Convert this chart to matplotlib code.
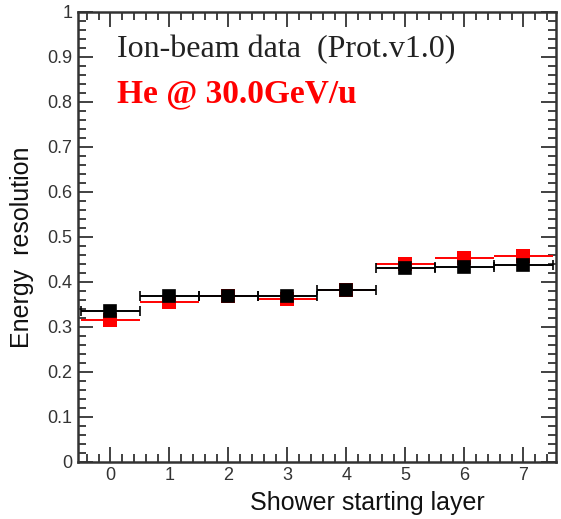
import numpy as np
import matplotlib
matplotlib.use('Agg')
from matplotlib import pyplot as plt
from matplotlib.ticker import MultipleLocator, FuncFormatter

# shower starting layer, energy resolution for two samples
layers = [0, 1, 2, 3, 4, 5, 6, 7]
res_black = [0.336, 0.369, 0.369, 0.369, 0.382, 0.430, 0.433, 0.437]
res_red = [0.315, 0.356, 0.369, 0.361, 0.382, 0.440, 0.453, 0.457]
bin_half = [0.5] * 8

fig = plt.figure(figsize=(5.61, 5.19), dpi=100)
ax = fig.add_axes([0.139, 0.110, 0.852, 0.867])

# red drawn first, black on top hides red where the two agree
ax.errorbar(layers, res_red, xerr=bin_half, fmt='s', color='#ff0000',
            ms=9.5, mew=0, elinewidth=1.4, capsize=0, zorder=2)
ax.errorbar(layers, res_black, xerr=bin_half, fmt='s', color='black',
            ms=9.0, mew=1.2, elinewidth=1.4, capsize=3.5, capthick=1.4,
            zorder=3)

ax.set_xlim(-0.55, 7.55)
ax.set_ylim(0, 1)
ax.xaxis.set_major_locator(MultipleLocator(1))
ax.xaxis.set_minor_locator(MultipleLocator(0.2))
ax.yaxis.set_major_locator(MultipleLocator(0.1))
ax.yaxis.set_minor_locator(MultipleLocator(0.02))
ax.yaxis.set_major_formatter(FuncFormatter(lambda v, p: '%g' % round(v, 2)))

ax.tick_params(which='both', direction='in', top=True, right=True, width=1.3,
               labelsize=13, colors='#333333', labelcolor='#333333')
ax.tick_params(which='major', length=11, pad=4)
ax.tick_params(which='minor', length=6)
for lab in ax.get_xticklabels() + ax.get_yticklabels():
    lab.set_family('Liberation Sans')
for s in ax.spines.values():
    s.set_linewidth(1.8)
    s.set_color('#333333')

ax.set_ylabel('Energy  resolution', fontsize=18, family='Liberation Sans',
              color='#111111', va='center')
ax.yaxis.set_label_coords(-0.117, 0.477)
ax.set_xlabel('Shower starting layer', fontsize=18, family='Liberation Sans',
              color='#111111', ha='right', va='center')
ax.xaxis.set_label_coords(0.851, -0.092)

ax.text(0.082, 0.9, 'Ion-beam data  (Prot.v1.0)', transform=ax.transAxes,
        fontsize=23, family='Liberation Serif', color='#222222', va='baseline')
ax.text(0.082, 0.8, 'He @ 30.0GeV/u', transform=ax.transAxes,
        fontsize=24, family='Liberation Serif', weight='bold', color='#ff0000',
        va='baseline')

fig.savefig('out.png', dpi=100)
